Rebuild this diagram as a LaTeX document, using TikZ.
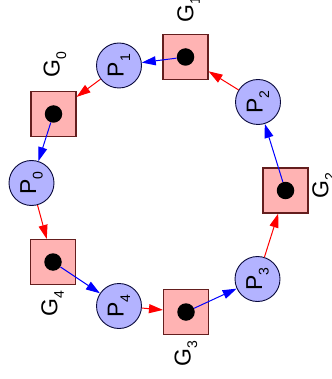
\documentclass[tikz,border=0pt]{standalone}
\usepackage{fontspec}
\setmainfont{Liberation Sans}
\usetikzlibrary{arrows.meta}

\definecolor{philfill}{RGB}{179,179,255}
\definecolor{philline}{RGB}{10,10,60}
\definecolor{forkfill}{RGB}{255,179,179}
\definecolor{forkline}{RGB}{100,30,30}

% subscript, set lower than usual
\newcommand{\lowsub}[1]{\raisebox{-6.5pt}{\fontsize{14}{14}\selectfont #1}}

\tikzset{
  phil/.style={circle, draw=philline, fill=philfill, line width=0.9pt,
    minimum size=45pt, inner sep=0pt, rotate=90,
    font=\fontsize{23}{23}\selectfont},
  fork/.style={rectangle, draw=forkline, fill=forkfill, line width=1.1pt,
    minimum size=45pt, inner sep=0pt},
  token/.style={circle, fill=black, minimum size=17.5pt, inner sep=0pt},
  forkname/.style={rotate=90, inner sep=0pt, font=\fontsize{23}{23}\selectfont},
  take/.style={draw=blue, line width=1pt, -{Triangle[length=14pt,width=9pt]}},
  release/.style={draw=red, line width=1pt, -{Triangle[length=14pt,width=9pt]}},
}

\begin{document}
\begin{tikzpicture}[x=1pt, y=-1pt]
  \useasboundingbox (0,0) rectangle (331,379);
  \clip (0,0) rectangle (331,379);

  % forks
  \node[fork] (g0) at (53.5,114) {};
  \node[fork] (g1) at (185.5,57) {};
  \node[fork] (g2) at (285.5,190.5) {};
  \node[fork] (g3) at (186,312) {};
  \node[fork] (g4) at (53,262) {};

  % tokens on the forks
  \node[token] (t0) at (g0) {};
  \node[token] (t1) at (g1) {};
  \node[token] (t2) at (g2) {};
  \node[token] (t3) at (g3) {};
  \node[token] (t4) at (g4) {};

  % philosophers
  \node[phil] (p0) at (31.5,183) {P\lowsub{0}};
  \node[phil] (p1) at (119,65.5) {P\lowsub{1}};
  \node[phil] (p2) at (258,102) {P\lowsub{2}};
  \node[phil] (p3) at (257.5,279) {P\lowsub{3}};
  \node[phil] (p4) at (119,306) {P\lowsub{4}};

  % fork names
  \node[forkname] (l0) at (55,65) {G\lowsub{0}};
  \node[forkname] (l1) at (188.5,9.5) {G\lowsub{1}};
  \node[forkname] (l2) at (323.5,186) {G\lowsub{2}};
  \node[forkname] (l3) at (186,353.5) {G\lowsub{3}};
  \node[forkname] (l4) at (52.5,304) {G\lowsub{4}};

  % taking forks
  \draw[take] (t1) -- (p1);
  \draw[take] (t0) -- (p0);
  \draw[take] (t4) -- (p4);
  \draw[take] (t3) -- (p3);
  \draw[take] (t2) -- (p2);

  % releasing forks
  \draw[release] (p1) -- (g0);
  \draw[release] (p0) -- (g4);
  \draw[release] (p4) -- (g3);
  \draw[release] (p3) -- (g2);
  \draw[release] (p2) -- (g1);
\end{tikzpicture}
\end{document}
